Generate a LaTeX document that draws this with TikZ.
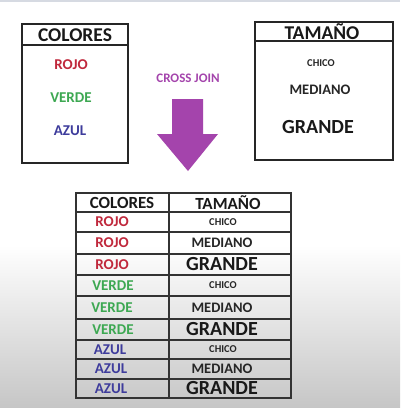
\documentclass[tikz,border=0pt]{standalone}
\usepackage{fontspec}
\setmainfont{Carlito}
\definecolor{cred}{HTML}{C0283C}
\definecolor{cgreen}{HTML}{3DA852}
\definecolor{cblue}{HTML}{3E3C9C}
\definecolor{cpurple}{HTML}{A444AC}
\definecolor{cgray}{HTML}{C6C6C6}
\definecolor{ctop}{HTML}{D6DAE2}
\begin{document}
\begin{tikzpicture}[x=1pt,y=-1pt,
  box/.style={draw=black!85,line width=1.8pt},
  tbl/.style={draw=black!80,line width=1.3pt},
  txt/.style={font=\bfseries,inner sep=0pt,anchor=center},
  hdr/.style={txt,font=\bfseries\fontsize{19.5}{21}\selectfont,text=black!90},
  thdr/.style={txt,font=\bfseries\fontsize{17}{19}\selectfont,text=black!90},
  val/.style={txt,font=\bfseries\fontsize{15}{17}\selectfont},
  chico/.style={txt,font=\bfseries\fontsize{10.5}{12}\selectfont,text=black!85},
  mediano/.style={txt,font=\bfseries\fontsize{14.5}{16}\selectfont,text=black!85},
  grande/.style={txt,font=\bfseries\fontsize{20}{22}\selectfont,text=black!90}]
\useasboundingbox (0,0) rectangle (400,408);
\fill[white] (0,0) rectangle (400,408);
\fill[ctop] (0,0) rectangle (400,2);
\shade[top color=white,bottom color=cgray] (0,245) rectangle (400,408);
% left box
\draw[box] (22,24) rectangle (128,163);
\draw[box] (22,45) -- (128,45);
\node[hdr] (lh) at (75,35) {COLORES};
\node[val,text=cred] (l1) at (71,65) {ROJO};
\node[val,text=cgreen] (l2) at (71,98) {VERDE};
\node[val,text=cblue] (l3) at (70,131) {AZUL};
% right box
\draw[box] (255,22) rectangle (393,160);
\draw[box] (255,41) -- (393,41);
\node[hdr] (rh) at (322,31.5) {TAMAÑO};
\node[chico] (r1) at (321,63) {CHICO};
\node[mediano] (r2) at (320,90) {MEDIANO};
\node[grande] (r3) at (318,127) {GRANDE};
% cross join
\node[txt,font=\bfseries\fontsize{13}{14}\selectfont,text=cpurple] (cj) at (188,78) {CROSS JOIN};
\fill[cpurple] (172,99) -- (203,99) -- (203,134) -- (218,134) -- (188,171) -- (157,134) -- (172,134) -- cycle;
% table
\draw[tbl] (76,193) rectangle (291,398);
\draw[tbl] (169,193) -- (169,398);
\foreach \yy in {212,232,254,275,296,319,340,359,379}{\draw[tbl] (76,\yy) -- (291,\yy);}
\node[thdr] (th1) at (122,202.5) {COLORES};
\node[thdr] (th2) at (228,202.5) {TAMAÑO};
\node[val,text=cred] (a1) at (112,222) {ROJO};
\node[chico] (b1) at (223,222) {CHICO};
\node[val,text=cred] (a2) at (112,243) {ROJO};
\node[mediano] (b2) at (222,243) {MEDIANO};
\node[val,text=cred] (a3) at (112,264.5) {ROJO};
\node[grande] (b3) at (222,264.5) {GRANDE};
\node[val,text=cgreen] (a4) at (113,285.5) {VERDE};
\node[chico] (b4) at (223,285.5) {CHICO};
\node[val,text=cgreen] (a5) at (112,307.5) {VERDE};
\node[mediano] (b5) at (222,307.5) {MEDIANO};
\node[val,text=cgreen] (a6) at (113,329.5) {VERDE};
\node[grande] (b6) at (222,329.5) {GRANDE};
\node[val,text=cblue] (a7) at (110,349.5) {AZUL};
\node[chico] (b7) at (223,349.5) {CHICO};
\node[val,text=cblue] (a8) at (111,369) {AZUL};
\node[mediano] (b8) at (222,369) {MEDIANO};
\node[val,text=cblue] (a9) at (111,388.5) {AZUL};
\node[grande] (b9) at (222,388.5) {GRANDE};
\end{tikzpicture}
\end{document}
